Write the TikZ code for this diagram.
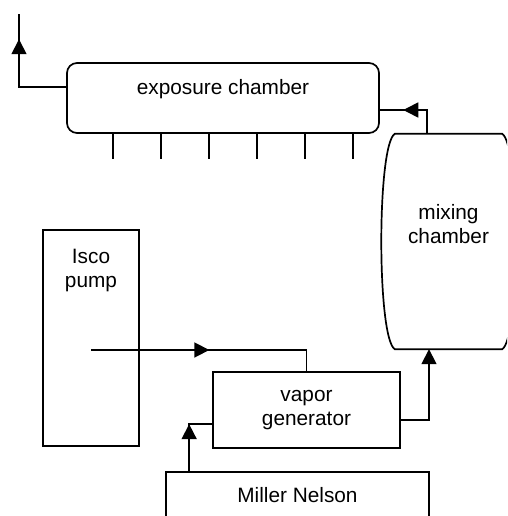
\documentclass[tikz,border=0pt]{standalone}
\usepackage{fontspec}
\setmainfont{Liberation Sans}
\usetikzlibrary{arrows.meta,positioning,calc,decorations.markings}

\begin{document}
\begin{tikzpicture}[
  x=1pt,y=-1pt,
  >={Triangle[length=15pt,width=15pt]},
  font=\fontsize{20.8}{24}\selectfont,
  line/.style={draw=black, line width=1.7pt},
  unit/.style={line, minimum width=#1, inner sep=0pt, align=center},
  chamber/.style={line, rounded corners=10pt, inner sep=0pt},
  pipe/.style={line},
  midarrow/.style={pipe, postaction={decorate},
    decoration={markings, mark=at position #1 with {\arrow{>}}}}
]
\useasboundingbox (0,0) rectangle (507,516);
\clip (0,0) rectangle (507,516);

% ================= units =================
\node[chamber, minimum width=312pt, minimum height=70pt,
  label={[yshift=9pt]center:exposure chamber}] (expo) at (223,98) {};
\node[minimum width=137pt, minimum height=215pt, inner sep=0pt,
  label={[yshift=17pt, align=center]center:mixing\\chamber}] (mix) at (448.5,241.5) {};
\node[unit=96pt, minimum height=216pt,
  label={[anchor=north, yshift=-17pt, align=center]north:Isco\\pump}] (pump) at (91,338) {};
\node[unit=187pt, minimum height=76pt] (vapor) at (306.5,410) {vapor\\generator};
\node[unit=263pt, minimum height=46pt] (miller) at (297.5,495) {Miller Nelson};

% mixing chamber outline
\draw[line] ($(mix.north west)+(15,0)$) -- ($(mix.north east)+(-15,0)$)
  .. controls ($(mix.north east)+(3,11)$) and ($(mix.south east)+(3,-11)$) .. ($(mix.south east)+(-15,0)$)
  -- ($(mix.south west)+(15,0)$)
  .. controls ($(mix.south west)+(-3,-11)$) and ($(mix.north west)+(-3,11)$) .. cycle;

% sampling ports
\foreach \k in {1,...,6}
  \draw[line] ($(expo.south west)+(48*\k-1,0)$) -- ++(0,25);

% ================= flow lines =================
\coordinate (exhaust) at (19,14);
\draw[midarrow=0.5] ($(pump.center)+(0,12)$) -| (vapor.north);
\draw[midarrow=0.67] ($(miller.north west)+(24,0)$) |- ($(vapor.west)+(0,14)$);
\draw[pipe,->] ($(vapor.east)+(0,10)$) -| ($(mix.south)+(-19.5,0)$);
\draw[midarrow=0.67] ($(mix.north)+(-21.5,0)$) |- ($(expo.east)+(0,12)$);
\draw[midarrow=0.79] ($(expo.west)+(0,-11)$) -| (exhaust);

\end{tikzpicture}
\end{document}
